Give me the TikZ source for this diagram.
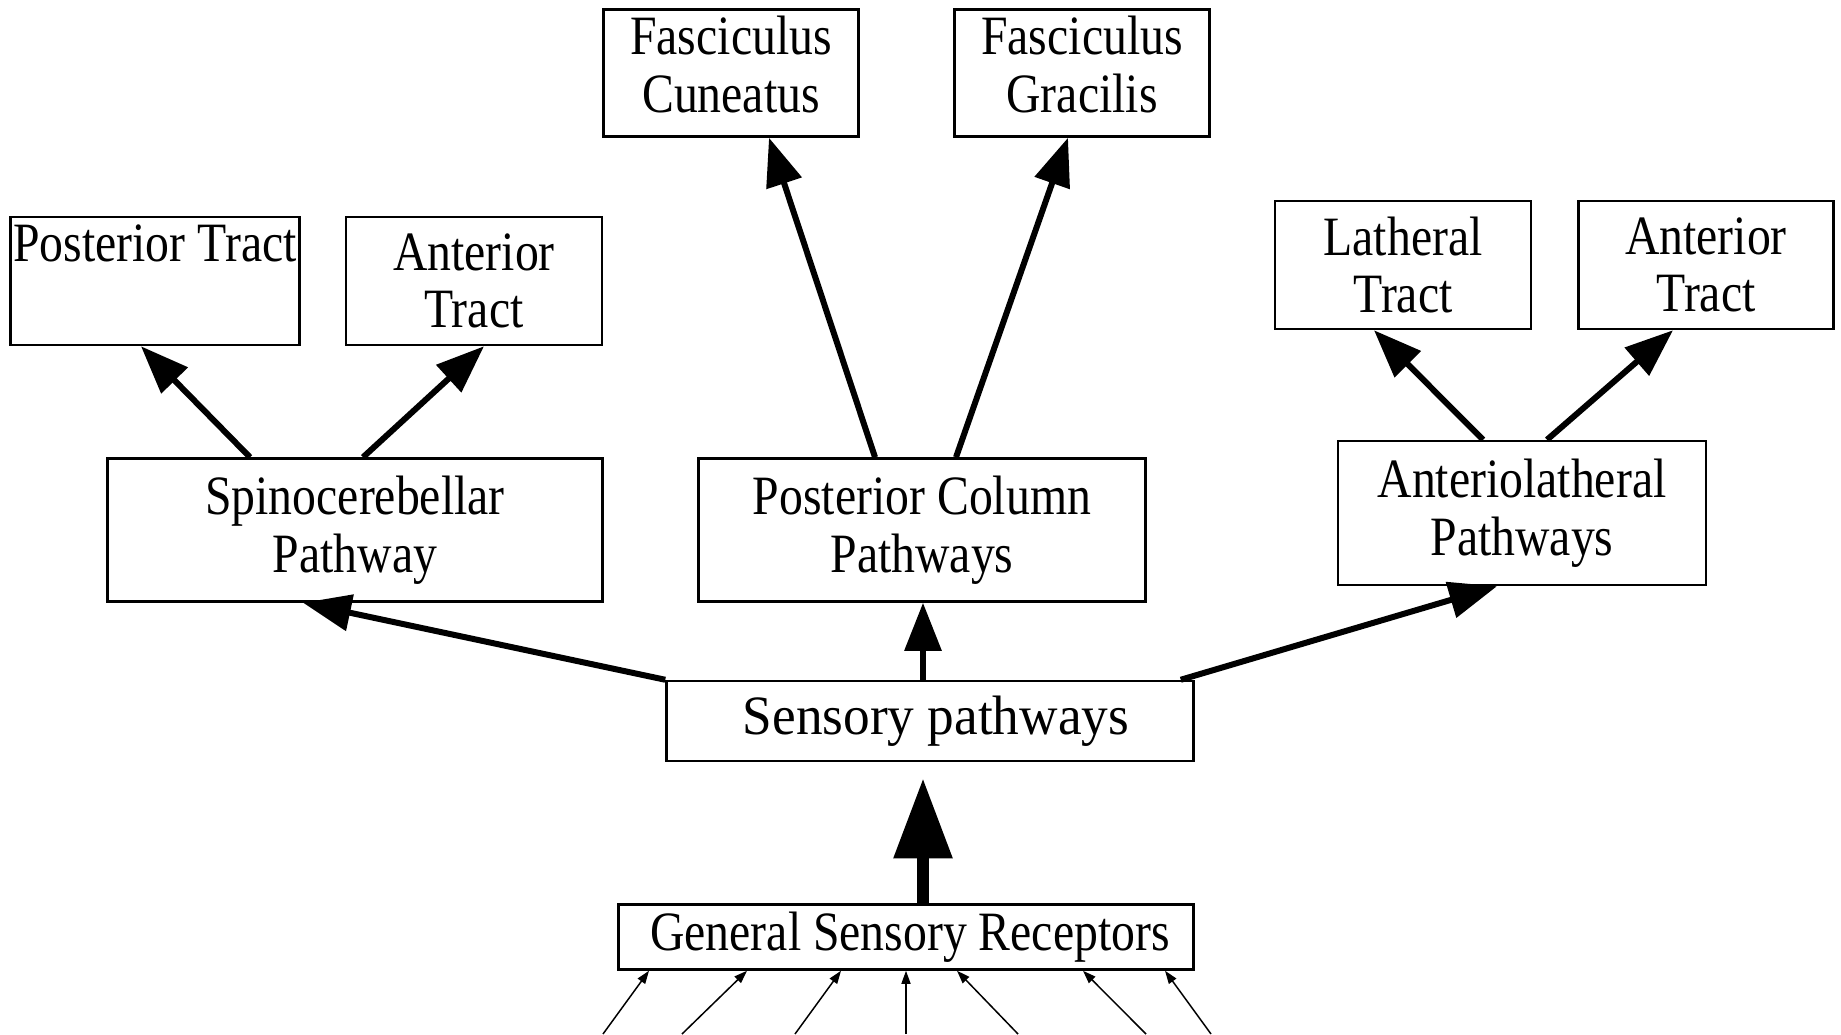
\documentclass[tikz,border=0pt]{standalone}
\usepackage{fontspec}
\setmainfont{Liberation Serif}[FakeStretch=0.86]
\newfontfamily\widefont{Liberation Serif}[FakeStretch=0.96]
\usetikzlibrary{arrows.meta}

\begin{document}
\begin{tikzpicture}[x=1pt, y=-1pt,
        box/.style={draw, line width=2.5pt, inner sep=0pt, align=center,
            font=\fontsize{55.5}{57.6}\selectfont},
        arr/.style={line width=6pt, -{Triangle[length=48pt, width=36pt]}},
        bigarr/.style={line width=12pt, -{Triangle[length=80pt, width=56pt]}},
        recarr/.style={line width=1.5pt, -{Triangle[length=13pt, width=9pt]}}]
        \useasboundingbox (0,0) rectangle (1841,1034);

        % tracts
        \node[box, minimum width=289pt, minimum height=128pt] (posttract) at (155,281) {Posterior Tract\\\strut};
        \node[box, minimum width=256pt, minimum height=128pt] (anttractl) at (474,281) {Anterior\\Tract};
        \node[box, minimum width=255pt, minimum height=127pt] (cuneatus) at (731,73) {Fasciculus\\Cuneatus\strut};
        \node[box, minimum width=255pt, minimum height=127pt] (gracilis) at (1082,73) {Fasciculus\\Gracilis\strut};
        \node[box, minimum width=256pt, minimum height=128pt] (lattract) at (1403,265) {Latheral\\Tract};
        \node[box, minimum width=255pt, minimum height=128pt] (anttractr) at (1706,265) {Anterior\\Tract};

        % pathways
        \node[box, minimum width=495pt, minimum height=143pt] (spino) at (355,530) {Spinocerebellar\\Pathway};
        \node[box, minimum width=447pt, minimum height=143pt] (postcol) at (922,530) {Posterior Column\\Pathways};
        \node[box, minimum width=368pt, minimum height=144pt] (antero) at (1522,513) {Anteriolatheral\\Pathways};
        \node[box, minimum width=527pt, minimum height=80pt] (sensory) at (930,721) {\widefont\hspace{12pt}Sensory pathways};
        \node[box, minimum width=575pt, minimum height=65pt] (receptors) at (906,937) {\hspace{8pt}General Sensory Receptors};

        \draw[arr] ([xshift=-105pt]spino.north) -- ([xshift=-14pt]posttract.south);
        \draw[arr] ([xshift=8pt]spino.north) -- ([xshift=10pt]anttractl.south);
        \draw[arr] ([xshift=-47pt]postcol.north) -- ([xshift=38pt]cuneatus.south);
        \draw[arr] ([xshift=34pt]postcol.north) -- ([xshift=-14pt]gracilis.south);
        \draw[arr] ([xshift=-39pt]antero.north) -- ([xshift=-29pt]lattract.south);
        \draw[arr] ([xshift=25pt]antero.north) -- ([xshift=-33pt]anttractr.south);

        \draw[arr] (sensory.north west) -- ([xshift=-52pt]spino.south);
        \draw[arr] ([xshift=-7pt]sensory.north) -- ([xshift=1pt]postcol.south);
        \draw[arr] ([xshift=-14pt]sensory.north east) -- ([xshift=-25pt]antero.south);
        \draw[bigarr] ([xshift=17pt]receptors.north) -- ([xshift=-7pt,yshift=-16pt]sensory.south);

        % stimuli
        \foreach \i/\sx/\ex in {1/603/-257, 2/682/-159, 3/795/-65, 4/906/0, 5/1018/51, 6/1146/177, 7/1211/259} {
            \coordinate (stim\i) at (\sx,1034);
            \draw[recarr] (stim\i) -- ([xshift=\ex pt]receptors.south);
        }
    \end{tikzpicture}
\end{document}
